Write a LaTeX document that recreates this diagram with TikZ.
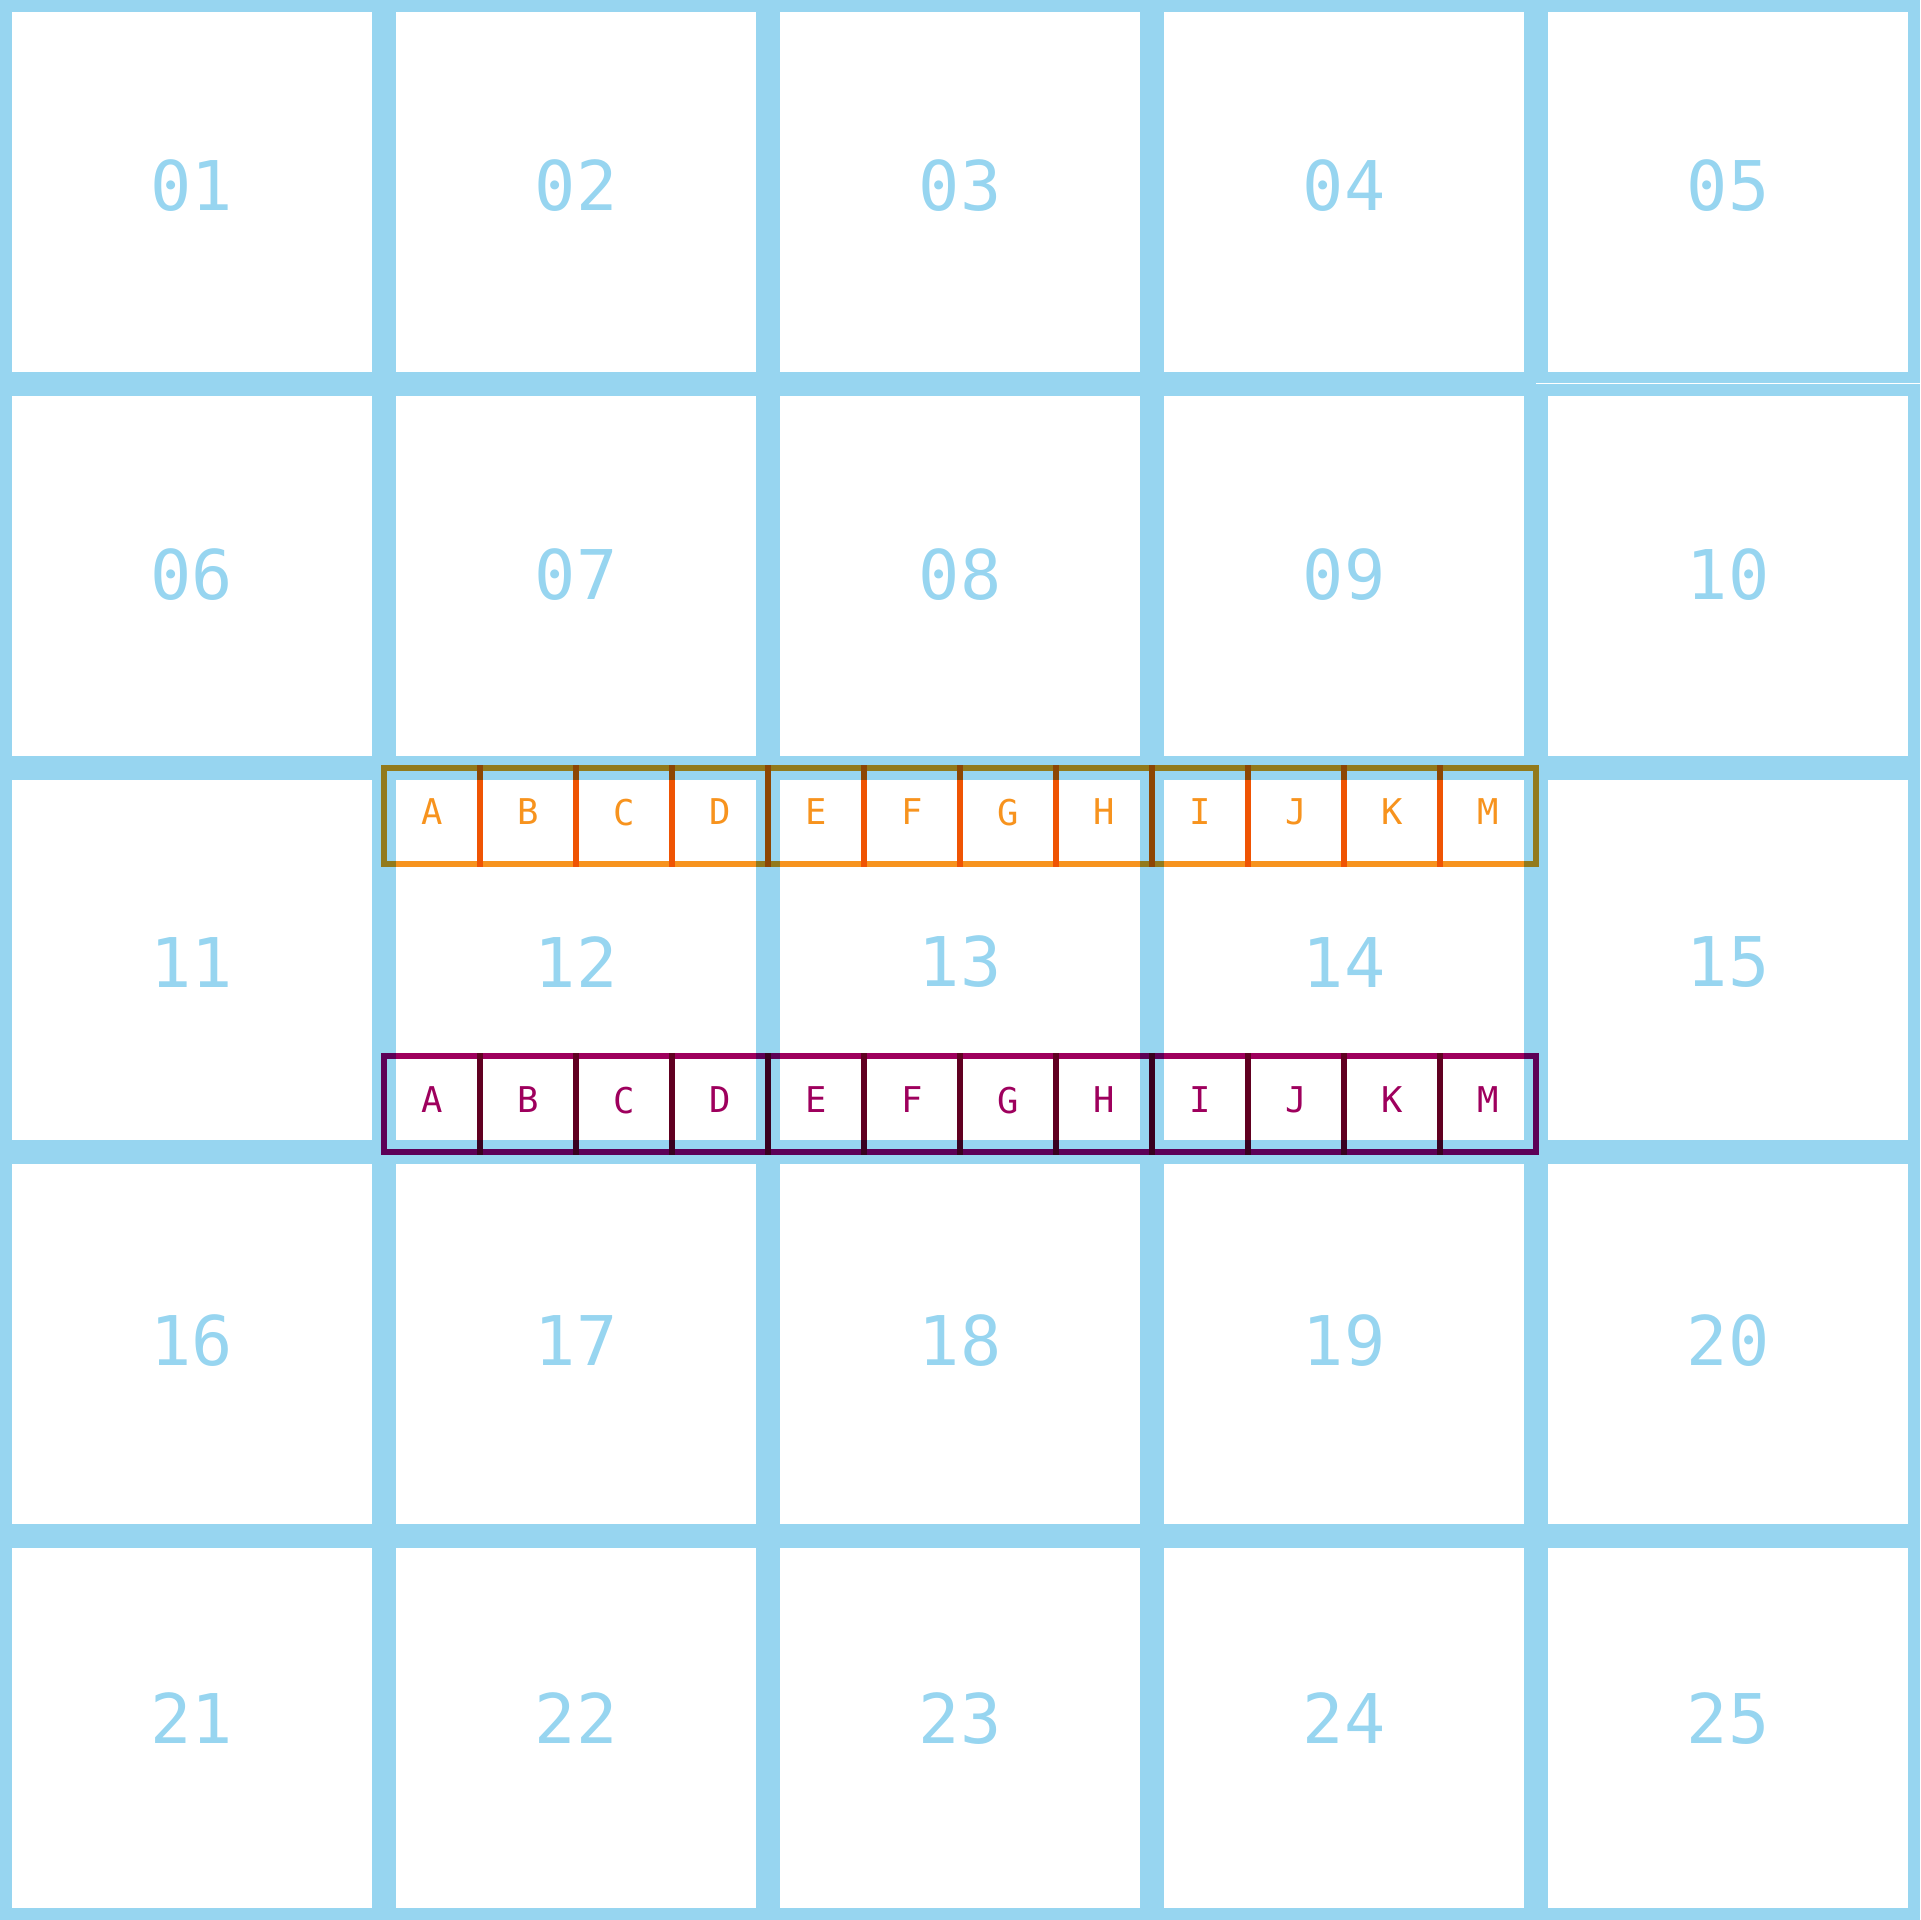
\documentclass[tikz,border=0pt]{standalone}
\usepackage{fontspec}
\setmonofont[Numbers=SlashedZero]{DejaVu Sans Mono}
\usepackage{xcolor}
\usepackage{tikz}
\usetikzlibrary{matrix}
\definecolor{gridblue}{HTML}{97D5F0}
\definecolor{rowtop}{HTML}{F7931E}
\definecolor{rowbot}{HTML}{9E005D}
\tikzstyle{cell}=[draw=gridblue,line width=1.2mm,minimum size=37.2mm,inner sep=0pt,outer sep=.6mm,anchor=center,text=gridblue,font=\ttfamily\fontsize{19.5}{20}\selectfont]
\tikzstyle{slot}=[line width=.55mm,minimum size=9.6mm,inner sep=0pt,outer sep=0pt,anchor=center,text depth=.8mm,font=\ttfamily\fontsize{10.1}{11}\selectfont]
\tikzstyle{slottop}=[slot,draw=rowtop,text=rowtop]
\tikzstyle{slotbot}=[slot,draw=rowbot,text=rowbot]

\begin{document}
\begin{tikzpicture}
	\useasboundingbox (0,0) rectangle (19.2,-19.2);
	\matrix (m) [matrix of nodes,inner sep=0pt,outer sep=0pt,anchor=north west,nodes={cell},
	  row 1/.style={nodes={text depth=1.4mm}},row 2/.style={nodes={text depth=.3mm}},
	  row 3/.style={nodes={text height=5.4mm}},row 4/.style={nodes={text depth=.8mm}},
	  row 5/.style={nodes={text depth=2mm}}] at (0,0) {
	  01 & 02 & 03 & 04 & 05 \\ 06 & 07 & 08 & 09 & 10 \\ 11 & 12 & 13 & 14 & 15 \\
	  16 & 17 & 18 & 19 & 20 \\ 21 & 22 & 23 & 24 & 25 \\
	};
	\draw[white,line width=.1mm] ([yshift=.05mm]m-1-5.south west) -- ([yshift=.05mm]m-1-5.south east);
	\begin{scope}[blend mode=multiply]
	\matrix (top) [matrix of nodes,inner sep=0pt,outer sep=0pt,column sep=-.55mm,anchor=north west,nodes={slottop}]
	  at ([xshift=-.275mm,yshift=.275mm]m-3-2.north west) {
	  A & B & C & D & E & F & G & H & I & J & K & M \\
	};
	\matrix (bot) [matrix of nodes,inner sep=0pt,outer sep=0pt,column sep=-.55mm,anchor=south west,nodes={slotbot}]
	  at ([xshift=-.275mm,yshift=-.275mm]m-3-2.south west) {
	  A & B & C & D & E & F & G & H & I & J & K & M \\
	};
	\end{scope}
\end{tikzpicture}
\end{document}
